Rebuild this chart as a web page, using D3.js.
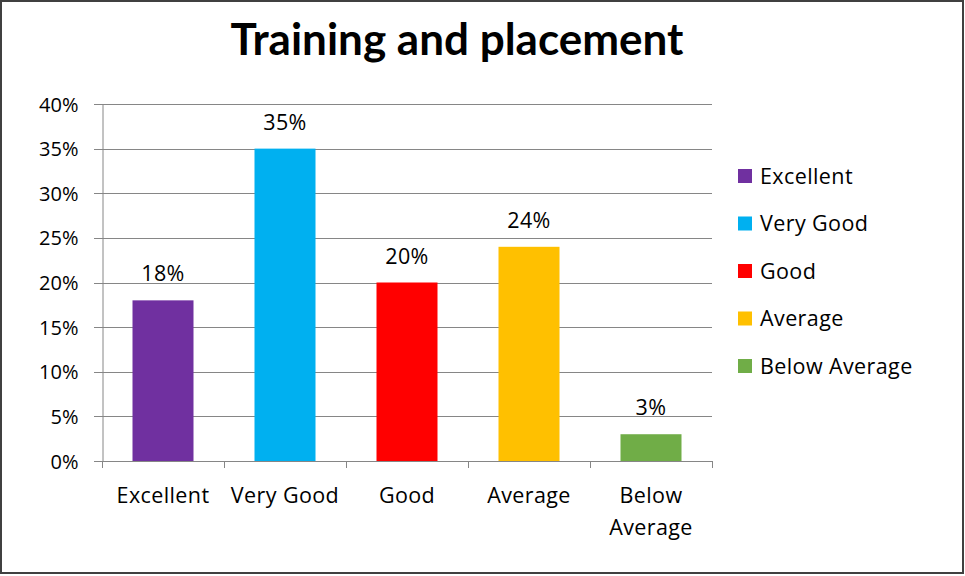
<html>
<head>
<title>Training and placement</title>
<script src="https://cdn.jsdelivr.net/npm/d3@7"></script>
<style>
body{
    margin: 0;
    background: #fff;
}
text {
    font-family: "Open Sans", Lato, sans-serif;
    fill: #000;
}
.title {
    font-family: Lato, sans-serif;
}
.wide {
    letter-spacing: 0.4px;
}
.grid line {
    stroke: #868686;
    stroke-width: 1px;
}
</style>
</head>
<body>
<div id="chart"></div>
<script>
var categories = ['Excellent', 'Very Good', 'Good', 'Average', 'Below Average'],
    values     = [0.18, 0.35, 0.20, 0.24, 0.03],
    colors     = ['#7030A0', '#00B0F0', '#FF0000', '#FFC000', '#70AD47'],
    yTicks     = [0, 0.05, 0.10, 0.15, 0.20, 0.25, 0.30, 0.35, 0.40];

var width   = 965,
    height  = 576,
    plotL   = 102,
    plotR   = 712,
    plotT   = 104,
    plotB   = 461,
    tickFs  = '20px',
    labelFs = '21.5px';

var svg = d3.select('#chart')
    .append('svg')
    .attr('width', width)
    .attr('height', height);

// frame round the whole chart
svg.append('rect')
    .attr('x', 1).attr('y', 1)
    .attr('width', width - 3).attr('height', height - 4)
    .attr('fill', '#fff')
    .attr('stroke', '#404040')
    .attr('stroke-width', 2);

svg.append('text')
    .attr('class', 'title')
    .attr('x', 457)
    .attr('y', 55)
    .attr('text-anchor', 'middle')
    .style('font-size', '44px')
    .style('font-weight', 'bold')
    .text('Training and placement');

var x = d3.scaleBand().domain(categories).range([plotL, plotR]).paddingInner(0.5).paddingOuter(0.25);
var y = d3.scaleLinear().domain([0, 0.4]).range([plotB, plotT]);

// horizontal grid + y axis
var grid = svg.append('g').attr('class', 'grid');
grid.selectAll('line')
    .data(yTicks)
    .enter().append('line')
    .attr('x1', plotL - 8).attr('x2', plotR)
    .attr('y1', function(d) { return Math.round(y(d)) + 0.5; })
    .attr('y2', function(d) { return Math.round(y(d)) + 0.5; });

var yAxis = svg.append('g')
    .attr('transform', 'translate(' + (plotL + 0.5) + ',0)')
    .call(d3.axisLeft(y).tickValues(yTicks).tickFormat(d3.format('.0%')).tickSize(0).tickPadding(24));
yAxis.select('.domain').attr('stroke', '#868686');
yAxis.selectAll('text').style('font-size', tickFs).style('font-family', '"Open Sans", sans-serif').attr('fill', '#000').attr('dy', '0.35em');

// bars
svg.selectAll('.bar')
    .data(values)
    .enter().append('rect')
    .attr('class', 'bar')
    .attr('x', function(d, i) { return x(categories[i]); })
    .attr('width', x.bandwidth())
    .attr('y', function(d) { return y(d); })
    .attr('height', function(d) { return y(0) - y(d); })
    .attr('fill', function(d, i) { return colors[i]; });

// data labels
svg.selectAll('.lbl')
    .data(values)
    .enter().append('text')
    .attr('class', 'lbl wide')
    .attr('x', function(d, i) { return x(categories[i]) + x.bandwidth() / 2; })
    .attr('y', function(d) { return y(d) - 19; })
    .attr('text-anchor', 'middle')
    .style('font-size', labelFs)
    .text(function(d) { return d3.format('.0%')(d); });

// x axis with ticks between categories
var xAxis = svg.append('g');
xAxis.append('line')
    .attr('x1', plotL).attr('x2', plotR)
    .attr('y1', plotB + 0.5).attr('y2', plotB + 0.5)
    .attr('stroke', '#868686');
xAxis.selectAll('.xt')
    .data(d3.range(categories.length + 1))
    .enter().append('line')
    .attr('class', 'xt')
    .attr('x1', function(i) { return Math.round(plotL + i * (plotR - plotL) / categories.length) + 0.5; })
    .attr('x2', function(i) { return Math.round(plotL + i * (plotR - plotL) / categories.length) + 0.5; })
    .attr('y1', plotB).attr('y2', plotB + 7)
    .attr('stroke', '#868686');

var catText = xAxis.selectAll('.xl')
    .data(categories)
    .enter().append('text')
    .attr('class', 'xl wide')
    .attr('text-anchor', 'middle')
    .attr('transform', function(d) { return 'translate(' + (x(d) + x.bandwidth() / 2) + ',' + 503 + ')'; })
    .style('font-size', labelFs);
catText.each(function(d) {
    var t = d3.select(this);
    var words = d === 'Below Average' ? ['Below', 'Average'] : [d];
    words.forEach(function(w, k) {
        t.append('tspan').attr('x', 0).attr('y', k * 32).text(w);
    });
});

// legend
var legend = svg.selectAll('.leg')
    .data(categories)
    .enter().append('g')
    .attr('class', 'leg')
    .attr('transform', function(d, i) { return 'translate(738,' + (176 + i * 47.5) + ')'; });
legend.append('rect')
    .attr('x', 0).attr('y', -7)
    .attr('width', 14).attr('height', 14)
    .attr('fill', function(d, i) { return colors[i]; });
legend.append('text')
    .attr('class', 'wide')
    .attr('x', 22)
    .attr('y', 0)
    .attr('dy', '0.35em')
    .style('font-size', labelFs)
    .text(function(d) { return d; });
</script>
</body>
</html>
